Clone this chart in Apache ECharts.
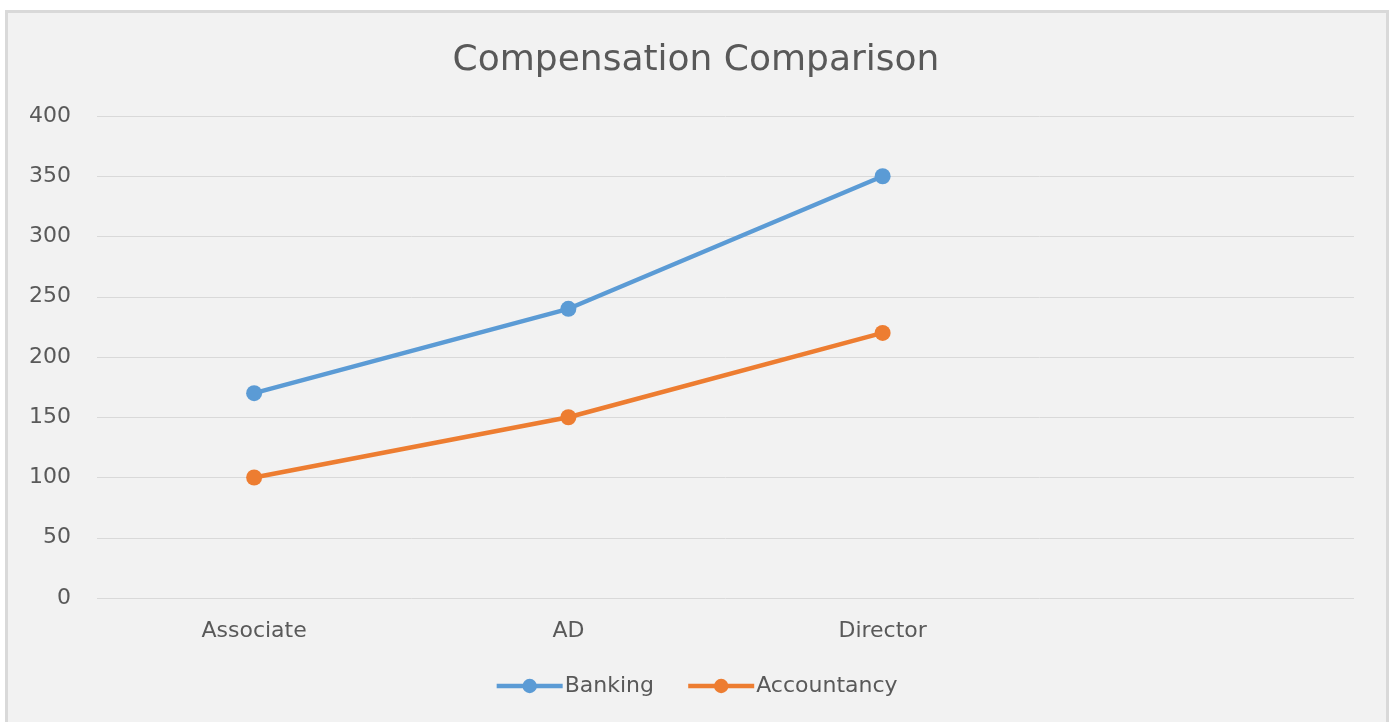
<!DOCTYPE html>
<html>
<head>
<meta charset="utf-8">
<script src="https://cdn.jsdelivr.net/npm/echarts@6/dist/echarts.min.js"></script>
<style>
html, body { margin: 0; padding: 0; background: #ffffff; }
#frame {
	position: absolute; left: 5px; top: 10px; width: 1378px; height: 720px;
	background: #f2f2f2; border: 3px solid #d9d9d9;
}
#main { position: absolute; left: 0; top: 0; width: 1392px; height: 722px; }
</style>
</head>
<body>
<div id="frame"></div>
<div id="main"></div>
<script>
var categories = ["Associate", "AD", "Director", ""];
var banking = [170, 240, 350];
var accountancy = [100, 150, 220];

var myChart = echarts.init(document.querySelector("#main"));
var textColor = "#595959";
var font = "'DejaVu Sans', sans-serif";

var option = {
	backgroundColor: "transparent",
	title: {
		text: "Compensation Comparison",
		left: "center",
		top: 38,
		textStyle: { color: textColor, fontSize: 36, fontWeight: "normal", fontFamily: font }
	},
	legend: {
		bottom: 20,
		left: "center",
		itemWidth: 66,
		itemHeight: 18,
		itemGap: 32,
		lineStyle: { width: 4.5 },
		textStyle: { color: textColor, fontSize: 22, fontFamily: font, padding: [0, 0, 0, -3] },
		data: ["Banking", "Accountancy"]
	},
	grid: { left: 97, right: 38, top: 116, bottom: 124 },
	xAxis: {
		type: "category",
		data: categories,
		boundaryGap: true,
		axisLine: { show: false },
		axisTick: { show: false },
		axisLabel: { color: textColor, fontSize: 22, fontFamily: font, margin: 22 }
	},
	yAxis: {
		type: "value",
		min: 0,
		max: 400,
		interval: 50,
		axisLine: { show: false },
		axisTick: { show: false },
		splitLine: { lineStyle: { color: "#d9d9d9", width: 1 } },
		axisLabel: { color: textColor, fontSize: 22, fontFamily: font, margin: 26 }
	},
	series: [
		{
			name: "Banking",
			type: "line",
			data: banking,
			symbol: "circle",
			symbolSize: 16,
			itemStyle: { color: "#5b9bd5" },
			lineStyle: { color: "#5b9bd5", width: 4.5 }
		},
		{
			name: "Accountancy",
			type: "line",
			data: accountancy,
			symbol: "circle",
			symbolSize: 16,
			itemStyle: { color: "#ed7d31" },
			lineStyle: { color: "#ed7d31", width: 4.5 }
		}
	]
};
myChart.setOption(option);
</script>
</body>
</html>
